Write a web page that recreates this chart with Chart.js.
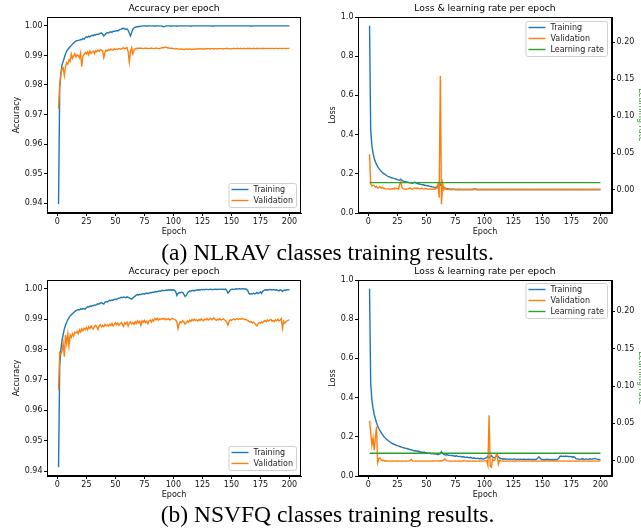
<!DOCTYPE html>
<html>
<head>
<meta charset="utf-8">
<script src="https://cdn.jsdelivr.net/npm/chart.js@4.4.1/dist/chart.umd.min.js"></script>
<style>
  html, body { margin: 0; padding: 0; background: #fff; overflow: hidden; }
  body { width: 641px; height: 528px; position: relative; }
  canvas { position: absolute; }
  .caption { position: absolute; left: 0; width: 655px; text-align: center; font-family: "Liberation Serif", serif; font-size: 23.5px; line-height: 1; color: #000; white-space: nowrap; }
</style>
</head>
<body>
<canvas id="acc-a" width="320" height="240" style="left:0;top:0"></canvas>
<canvas id="loss-a" width="330" height="240" style="left:320px;top:0"></canvas>
<div class="caption" style="top:241px">(a) NLRAV classes training results.</div>
<canvas id="acc-b" width="320" height="240" style="left:0;top:263px"></canvas>
<canvas id="loss-b" width="330" height="240" style="left:320px;top:263px"></canvas>
<div class="caption" style="top:503px">(b) NSVFQ classes training results.</div>
<script>
// epochs 1..200 (x positions only)
const epochs = Array.from({length: 200}, (_, i) => i + 1);
const epochTicks = [0, 25, 50, 75, 100, 125, 150, 175, 200];
const accTicks = [0.94, 0.95, 0.96, 0.97, 0.98, 0.99, 1.00];
const lossTicks = [0.0, 0.2, 0.4, 0.6, 0.8, 1.0];
const lrTicks = [0.00, 0.05, 0.10, 0.15, 0.20];

// (a) NLRAV
const accTrainA = [
  0.9397, 0.9790, 0.9840, 0.9868, 0.9880, 0.9893, 0.9905, 0.9915, 0.9920, 0.9925,
  0.9930, 0.9934, 0.9938, 0.9942, 0.9946, 0.9948, 0.9950, 0.9951, 0.9952, 0.9954,
  0.9953, 0.9957, 0.9955, 0.9960, 0.9963, 0.9961, 0.9965, 0.9963, 0.9966, 0.9968,
  0.9967, 0.9970, 0.9969, 0.9972, 0.9971, 0.9973, 0.9975, 0.9976, 0.9972, 0.9966,
  0.9970, 0.9974, 0.9977, 0.9976, 0.9979, 0.9980, 0.9978, 0.9982, 0.9981, 0.9983,
  0.9984, 0.9983, 0.9986, 0.9988, 0.9989, 0.9991, 0.9992, 0.9990, 0.9988, 0.9990,
  0.9985, 0.9975, 0.9966, 0.9978, 0.9988, 0.9993, 0.9995, 0.9996, 0.9997, 0.9998,
  0.9998, 0.9999, 0.9999, 1.0000, 1.0000, 1.0000, 0.9999, 1.0000, 1.0000, 1.0000,
  1.0000, 1.0000, 1.0000, 0.9999, 1.0000, 1.0000, 1.0000, 1.0000, 1.0000, 0.9999,
  0.9998, 0.9997, 0.9999, 1.0000, 1.0000, 1.0000, 1.0000, 0.9999, 1.0000, 1.0000,
  1.0000, 1.0000, 0.9999, 1.0000, 1.0000, 1.0000, 1.0000, 1.0000, 1.0000, 1.0000,
  1.0000, 1.0000, 1.0000, 1.0000, 0.9999, 1.0000, 1.0000, 1.0000, 1.0000, 1.0000,
  1.0000, 1.0000, 1.0000, 1.0000, 1.0000, 1.0000, 1.0000, 1.0000, 1.0000, 1.0000,
  1.0000, 1.0000, 1.0000, 0.9999, 1.0000, 1.0000, 1.0000, 1.0000, 1.0000, 1.0000,
  1.0000, 1.0000, 1.0000, 1.0000, 1.0000, 1.0000, 1.0000, 1.0000, 1.0000, 1.0000,
  1.0000, 1.0000, 1.0000, 1.0000, 1.0000, 1.0000, 1.0000, 1.0000, 1.0000, 1.0000,
  1.0000, 1.0000, 1.0000, 1.0000, 1.0000, 1.0000, 0.9999, 1.0000, 1.0000, 1.0000,
  1.0000, 1.0000, 1.0000, 1.0000, 1.0000, 1.0000, 1.0000, 1.0000, 1.0000, 1.0000,
  1.0000, 1.0000, 1.0000, 1.0000, 1.0000, 1.0000, 1.0000, 1.0000, 1.0000, 1.0000,
  1.0000, 1.0000, 1.0000, 1.0000, 1.0000, 1.0000, 1.0000, 1.0000, 1.0000, 1.0000
];
const accValA = [
  0.9720, 0.9800, 0.9835, 0.9855, 0.9858, 0.9832, 0.9862, 0.9875, 0.9870, 0.9885,
  0.9880, 0.9905, 0.9890, 0.9898, 0.9906, 0.9895, 0.9902, 0.9900, 0.9892, 0.9908,
  0.9862, 0.9898, 0.9903, 0.9910, 0.9905, 0.9912, 0.9902, 0.9915, 0.9907, 0.9912,
  0.9914, 0.9906, 0.9916, 0.9912, 0.9918, 0.9914, 0.9920, 0.9917, 0.9915, 0.9893,
  0.9910, 0.9918, 0.9915, 0.9920, 0.9917, 0.9921, 0.9919, 0.9918, 0.9922, 0.9920,
  0.9922, 0.9921, 0.9923, 0.9922, 0.9921, 0.9925, 0.9926, 0.9922, 0.9925, 0.9927,
  0.9912, 0.9878, 0.9915, 0.9926, 0.9905, 0.9918, 0.9922, 0.9924, 0.9923, 0.9925,
  0.9924, 0.9925, 0.9924, 0.9923, 0.9924, 0.9925, 0.9924, 0.9923, 0.9924, 0.9924,
  0.9925, 0.9924, 0.9923, 0.9924, 0.9925, 0.9924, 0.9924, 0.9923, 0.9925, 0.9926,
  0.9926, 0.9927, 0.9928, 0.9927, 0.9926, 0.9925, 0.9924, 0.9925, 0.9924, 0.9923,
  0.9923, 0.9922, 0.9923, 0.9922, 0.9921, 0.9921, 0.9922, 0.9921, 0.9920, 0.9921,
  0.9922, 0.9921, 0.9921, 0.9922, 0.9921, 0.9920, 0.9921, 0.9922, 0.9921, 0.9922,
  0.9922, 0.9923, 0.9922, 0.9923, 0.9922, 0.9922, 0.9923, 0.9922, 0.9923, 0.9923,
  0.9923, 0.9922, 0.9923, 0.9923, 0.9922, 0.9923, 0.9923, 0.9922, 0.9923, 0.9923,
  0.9923, 0.9923, 0.9922, 0.9923, 0.9923, 0.9924, 0.9923, 0.9923, 0.9922, 0.9923,
  0.9923, 0.9924, 0.9923, 0.9923, 0.9924, 0.9923, 0.9923, 0.9924, 0.9923, 0.9923,
  0.9924, 0.9923, 0.9923, 0.9924, 0.9923, 0.9924, 0.9923, 0.9923, 0.9924, 0.9923,
  0.9923, 0.9924, 0.9923, 0.9924, 0.9924, 0.9923, 0.9924, 0.9923, 0.9924, 0.9924,
  0.9923, 0.9924, 0.9924, 0.9923, 0.9924, 0.9924, 0.9923, 0.9924, 0.9924, 0.9923,
  0.9924, 0.9924, 0.9923, 0.9924, 0.9924, 0.9924, 0.9923, 0.9924, 0.9924, 0.9924
];
const lossTrainA = [
  0.955, 0.420, 0.345, 0.305, 0.280, 0.262, 0.248, 0.237, 0.228, 0.220,
  0.213, 0.207, 0.202, 0.198, 0.194, 0.190, 0.187, 0.185, 0.182, 0.180,
  0.178, 0.177, 0.175, 0.172, 0.170, 0.168, 0.167, 0.172, 0.166, 0.163,
  0.161, 0.160, 0.158, 0.157, 0.155, 0.154, 0.153, 0.152, 0.154, 0.158,
  0.153, 0.150, 0.149, 0.148, 0.146, 0.145, 0.144, 0.143, 0.141, 0.140,
  0.139, 0.138, 0.136, 0.135, 0.133, 0.132, 0.131, 0.130, 0.129, 0.130,
  0.134, 0.142, 0.152, 0.138, 0.130, 0.127, 0.125, 0.124, 0.123, 0.122,
  0.122, 0.121, 0.121, 0.121, 0.120, 0.120, 0.120, 0.121, 0.120, 0.120,
  0.120, 0.120, 0.120, 0.120, 0.120, 0.120, 0.120, 0.120, 0.120, 0.121,
  0.121, 0.123, 0.121, 0.120, 0.120, 0.120, 0.120, 0.120, 0.120, 0.120,
  0.120, 0.120, 0.120, 0.120, 0.120, 0.120, 0.120, 0.120, 0.120, 0.120,
  0.120, 0.120, 0.120, 0.120, 0.120, 0.120, 0.120, 0.120, 0.120, 0.120,
  0.120, 0.120, 0.120, 0.120, 0.120, 0.120, 0.120, 0.120, 0.120, 0.120,
  0.120, 0.120, 0.120, 0.120, 0.120, 0.120, 0.120, 0.120, 0.120, 0.120,
  0.120, 0.120, 0.120, 0.120, 0.120, 0.120, 0.120, 0.120, 0.120, 0.120,
  0.120, 0.120, 0.120, 0.120, 0.120, 0.120, 0.120, 0.120, 0.120, 0.120,
  0.120, 0.120, 0.120, 0.120, 0.120, 0.120, 0.120, 0.120, 0.120, 0.120,
  0.120, 0.120, 0.120, 0.120, 0.120, 0.120, 0.120, 0.120, 0.120, 0.120,
  0.120, 0.120, 0.120, 0.120, 0.120, 0.120, 0.120, 0.120, 0.120, 0.120,
  0.120, 0.120, 0.120, 0.120, 0.120, 0.120, 0.120, 0.120, 0.120, 0.120
];
const lossValA = [
  0.300, 0.150, 0.138, 0.142, 0.140, 0.132, 0.136, 0.128, 0.130, 0.134,
  0.127, 0.131, 0.126, 0.125, 0.123, 0.122, 0.124, 0.122, 0.121, 0.123,
  0.125, 0.122, 0.128, 0.126, 0.124, 0.122, 0.145, 0.160, 0.130, 0.124,
  0.122, 0.121, 0.123, 0.122, 0.125, 0.127, 0.123, 0.121, 0.126, 0.128,
  0.124, 0.127, 0.125, 0.122, 0.124, 0.126, 0.123, 0.122, 0.125, 0.124,
  0.122, 0.121, 0.123, 0.121, 0.122, 0.121, 0.123, 0.122, 0.135, 0.148,
  0.078, 0.700, 0.045, 0.150, 0.118, 0.130, 0.121, 0.120, 0.120, 0.120,
  0.120, 0.119, 0.120, 0.120, 0.119, 0.120, 0.120, 0.119, 0.120, 0.120,
  0.119, 0.120, 0.120, 0.119, 0.120, 0.120, 0.119, 0.120, 0.120, 0.119,
  0.120, 0.120, 0.119, 0.120, 0.120, 0.119, 0.120, 0.120, 0.119, 0.120,
  0.120, 0.119, 0.120, 0.120, 0.119, 0.120, 0.120, 0.119, 0.120, 0.120,
  0.119, 0.120, 0.120, 0.119, 0.120, 0.120, 0.119, 0.120, 0.120, 0.119,
  0.120, 0.120, 0.119, 0.120, 0.120, 0.119, 0.120, 0.120, 0.119, 0.120,
  0.120, 0.119, 0.120, 0.120, 0.119, 0.120, 0.120, 0.119, 0.120, 0.120,
  0.119, 0.120, 0.120, 0.119, 0.120, 0.120, 0.119, 0.120, 0.120, 0.119,
  0.120, 0.120, 0.119, 0.120, 0.120, 0.119, 0.120, 0.120, 0.119, 0.120,
  0.120, 0.119, 0.120, 0.120, 0.119, 0.120, 0.120, 0.119, 0.120, 0.120,
  0.119, 0.120, 0.120, 0.119, 0.120, 0.120, 0.119, 0.120, 0.120, 0.119,
  0.120, 0.120, 0.119, 0.120, 0.120, 0.119, 0.120, 0.120, 0.119, 0.120,
  0.120, 0.119, 0.120, 0.120, 0.119, 0.120, 0.120, 0.119, 0.120, 0.120
];
const lrA = [
  0.01, 0.01, 0.01, 0.01, 0.01, 0.01, 0.01, 0.01, 0.01, 0.01,
  0.01, 0.01, 0.01, 0.01, 0.01, 0.01, 0.01, 0.01, 0.01, 0.01,
  0.01, 0.01, 0.01, 0.01, 0.01, 0.01, 0.01, 0.01, 0.01, 0.01,
  0.01, 0.01, 0.01, 0.01, 0.01, 0.01, 0.01, 0.01, 0.01, 0.01,
  0.01, 0.01, 0.01, 0.01, 0.01, 0.01, 0.01, 0.01, 0.01, 0.01,
  0.01, 0.01, 0.01, 0.01, 0.01, 0.01, 0.01, 0.01, 0.01, 0.01,
  0.01, 0.01, 0.01, 0.01, 0.01, 0.01, 0.01, 0.01, 0.01, 0.01,
  0.01, 0.01, 0.01, 0.01, 0.01, 0.01, 0.01, 0.01, 0.01, 0.01,
  0.01, 0.01, 0.01, 0.01, 0.01, 0.01, 0.01, 0.01, 0.01, 0.01,
  0.01, 0.01, 0.01, 0.01, 0.01, 0.01, 0.01, 0.01, 0.01, 0.01,
  0.01, 0.01, 0.01, 0.01, 0.01, 0.01, 0.01, 0.01, 0.01, 0.01,
  0.01, 0.01, 0.01, 0.01, 0.01, 0.01, 0.01, 0.01, 0.01, 0.01,
  0.01, 0.01, 0.01, 0.01, 0.01, 0.01, 0.01, 0.01, 0.01, 0.01,
  0.01, 0.01, 0.01, 0.01, 0.01, 0.01, 0.01, 0.01, 0.01, 0.01,
  0.01, 0.01, 0.01, 0.01, 0.01, 0.01, 0.01, 0.01, 0.01, 0.01,
  0.01, 0.01, 0.01, 0.01, 0.01, 0.01, 0.01, 0.01, 0.01, 0.01,
  0.01, 0.01, 0.01, 0.01, 0.01, 0.01, 0.01, 0.01, 0.01, 0.01,
  0.01, 0.01, 0.01, 0.01, 0.01, 0.01, 0.01, 0.01, 0.01, 0.01,
  0.01, 0.01, 0.01, 0.01, 0.01, 0.01, 0.01, 0.01, 0.01, 0.01,
  0.01, 0.01, 0.01, 0.01, 0.01, 0.01, 0.01, 0.01, 0.01, 0.01
];

// (b) NSVFQ
const accTrainB = [
  0.9413, 0.9745, 0.9800, 0.9830, 0.9850, 0.9868, 0.9880, 0.9890, 0.9898, 0.9905,
  0.9911, 0.9915, 0.9918, 0.9922, 0.9925, 0.9928, 0.9930, 0.9932, 0.9931, 0.9934,
  0.9933, 0.9935, 0.9934, 0.9933, 0.9938, 0.9941, 0.9940, 0.9943, 0.9942, 0.9945,
  0.9944, 0.9947, 0.9946, 0.9949, 0.9951, 0.9950, 0.9953, 0.9955, 0.9952, 0.9950,
  0.9956, 0.9958, 0.9957, 0.9960, 0.9962, 0.9961, 0.9963, 0.9962, 0.9965, 0.9966,
  0.9965, 0.9968, 0.9969, 0.9970, 0.9972, 0.9971, 0.9973, 0.9972, 0.9971, 0.9974,
  0.9972, 0.9970, 0.9968, 0.9966, 0.9970, 0.9973, 0.9976, 0.9979, 0.9981, 0.9980,
  0.9982, 0.9981, 0.9983, 0.9984, 0.9982, 0.9985, 0.9986, 0.9984, 0.9986, 0.9988,
  0.9987, 0.9989, 0.9988, 0.9990, 0.9991, 0.9990, 0.9992, 0.9993, 0.9992, 0.9994,
  0.9995, 0.9994, 0.9995, 0.9996, 0.9995, 0.9997, 0.9996, 0.9997, 0.9996, 0.9997,
  0.9995, 0.9990, 0.9978, 0.9985, 0.9988, 0.9987, 0.9989, 0.9988, 0.9982, 0.9975,
  0.9978, 0.9985, 0.9990, 0.9993, 0.9992, 0.9994, 0.9995, 0.9993, 0.9995, 0.9996,
  0.9996, 0.9997, 0.9996, 0.9998, 0.9997, 0.9998, 0.9997, 0.9998, 0.9998, 0.9997,
  0.9998, 0.9999, 0.9998, 0.9997, 0.9998, 0.9999, 0.9998, 0.9999, 0.9998, 0.9999,
  0.9999, 0.9998, 0.9999, 0.9998, 0.9999, 0.9994, 0.9986, 0.9990, 0.9996, 0.9998,
  0.9999, 0.9998, 0.9999, 1.0000, 0.9999, 1.0000, 1.0000, 0.9999, 1.0000, 1.0000,
  0.9999, 1.0000, 0.9998, 0.9995, 0.9985, 0.9982, 0.9984, 0.9983, 0.9986, 0.9983,
  0.9985, 0.9988, 0.9984, 0.9987, 0.9990, 0.9985, 0.9992, 0.9995, 0.9997, 0.9996,
  0.9997, 0.9996, 0.9998, 0.9997, 0.9996, 0.9998, 0.9997, 0.9996, 0.9997, 0.9995,
  0.9993, 0.9997, 0.9996, 0.9991, 0.9995, 0.9996, 0.9995, 0.9997, 0.9997, 0.9997
];
const accValB = [
  0.9668, 0.9790, 0.9785, 0.9795, 0.9820, 0.9777, 0.9848, 0.9820, 0.9852, 0.9812,
  0.9848, 0.9840, 0.9852, 0.9845, 0.9857, 0.9855, 0.9860, 0.9852, 0.9865, 0.9858,
  0.9868, 0.9862, 0.9870, 0.9866, 0.9872, 0.9865, 0.9875, 0.9870, 0.9878, 0.9872,
  0.9868, 0.9876, 0.9880, 0.9874, 0.9866, 0.9878, 0.9882, 0.9875, 0.9880, 0.9876,
  0.9883, 0.9878, 0.9881, 0.9877, 0.9884, 0.9880, 0.9886, 0.9878, 0.9883, 0.9888,
  0.9882, 0.9887, 0.9880, 0.9885, 0.9889, 0.9883, 0.9876, 0.9888, 0.9884, 0.9890,
  0.9878, 0.9887, 0.9891, 0.9885, 0.9889, 0.9883, 0.9892, 0.9886, 0.9894, 0.9888,
  0.9893, 0.9880, 0.9895, 0.9890, 0.9896, 0.9889, 0.9893, 0.9885, 0.9894, 0.9897,
  0.9891, 0.9899, 0.9894, 0.9902, 0.9898, 0.9903, 0.9897, 0.9901, 0.9899, 0.9902,
  0.9900, 0.9903, 0.9898, 0.9901, 0.9899, 0.9902, 0.9897, 0.9900, 0.9903, 0.9901,
  0.9899, 0.9897, 0.9890, 0.9869, 0.9885, 0.9892, 0.9888, 0.9895, 0.9891, 0.9884,
  0.9888, 0.9894, 0.9890, 0.9897, 0.9893, 0.9899, 0.9895, 0.9900, 0.9896, 0.9898,
  0.9894, 0.9899, 0.9896, 0.9901, 0.9897, 0.9895, 0.9900, 0.9898, 0.9902, 0.9897,
  0.9900, 0.9903, 0.9898, 0.9901, 0.9904, 0.9899, 0.9896, 0.9900, 0.9898, 0.9902,
  0.9897, 0.9899, 0.9901, 0.9898, 0.9895, 0.9890, 0.9880, 0.9893, 0.9898, 0.9896,
  0.9899, 0.9901, 0.9898, 0.9900, 0.9902, 0.9899, 0.9901, 0.9900, 0.9902, 0.9901,
  0.9899, 0.9900, 0.9898, 0.9896, 0.9893, 0.9890, 0.9892, 0.9888, 0.9890, 0.9886,
  0.9882, 0.9878, 0.9885, 0.9889, 0.9887, 0.9891, 0.9889, 0.9893, 0.9896, 0.9892,
  0.9898, 0.9894, 0.9897, 0.9899, 0.9893, 0.9896, 0.9892, 0.9898, 0.9895, 0.9900,
  0.9894, 0.9897, 0.9902, 0.9870, 0.9893, 0.9887, 0.9892, 0.9895, 0.9897, 0.9898
];
const lossTrainB = [
  0.955, 0.470, 0.390, 0.345, 0.315, 0.292, 0.272, 0.256, 0.242, 0.231,
  0.221, 0.212, 0.204, 0.197, 0.191, 0.186, 0.181, 0.176, 0.172, 0.168,
  0.165, 0.162, 0.160, 0.157, 0.155, 0.154, 0.150, 0.149, 0.146, 0.145,
  0.143, 0.142, 0.140, 0.139, 0.136, 0.135, 0.133, 0.131, 0.130, 0.128,
  0.129, 0.126, 0.127, 0.123, 0.124, 0.121, 0.120, 0.122, 0.118, 0.119,
  0.117, 0.116, 0.117, 0.114, 0.115, 0.113, 0.112, 0.114, 0.111, 0.110,
  0.112, 0.114, 0.124, 0.115, 0.110, 0.108, 0.107, 0.109, 0.106, 0.105,
  0.104, 0.106, 0.103, 0.102, 0.101, 0.103, 0.100, 0.099, 0.101, 0.098,
  0.097, 0.099, 0.096, 0.095, 0.097, 0.094, 0.093, 0.095, 0.092, 0.091,
  0.093, 0.090, 0.089, 0.091, 0.089, 0.088, 0.090, 0.088, 0.087, 0.089,
  0.091, 0.095, 0.100, 0.093, 0.098, 0.104, 0.097, 0.093, 0.095, 0.101,
  0.106, 0.098, 0.092, 0.089, 0.088, 0.087, 0.088, 0.086, 0.087, 0.086,
  0.085, 0.087, 0.086, 0.085, 0.086, 0.087, 0.085, 0.084, 0.086, 0.085,
  0.086, 0.084, 0.085, 0.086, 0.084, 0.085, 0.084, 0.086, 0.085, 0.084,
  0.085, 0.084, 0.085, 0.084, 0.086, 0.092, 0.098, 0.090, 0.085, 0.084,
  0.083, 0.084, 0.083, 0.085, 0.084, 0.083, 0.084, 0.083, 0.084, 0.083,
  0.084, 0.083, 0.085, 0.090, 0.100, 0.102, 0.100, 0.101, 0.099, 0.102,
  0.100, 0.101, 0.098, 0.100, 0.099, 0.095, 0.099, 0.094, 0.088, 0.086,
  0.087, 0.085, 0.086, 0.088, 0.087, 0.085, 0.086, 0.087, 0.085, 0.086,
  0.088, 0.086, 0.087, 0.089, 0.090, 0.087, 0.086, 0.085, 0.084, 0.083
];
const lossValB = [
  0.282, 0.220, 0.158, 0.195, 0.132, 0.195, 0.252, 0.068, 0.088, 0.092,
  0.082, 0.078, 0.080, 0.077, 0.078, 0.076, 0.077, 0.076, 0.077, 0.076,
  0.077, 0.076, 0.076, 0.077, 0.076, 0.077, 0.076, 0.076, 0.077, 0.076,
  0.076, 0.077, 0.076, 0.076, 0.077, 0.078, 0.085, 0.077, 0.076, 0.076,
  0.077, 0.076, 0.076, 0.077, 0.076, 0.076, 0.077, 0.076, 0.076, 0.077,
  0.076, 0.076, 0.077, 0.076, 0.077, 0.076, 0.078, 0.077, 0.076, 0.077,
  0.076, 0.078, 0.077, 0.079, 0.082, 0.088, 0.079, 0.077, 0.076, 0.077,
  0.076, 0.077, 0.076, 0.076, 0.077, 0.076, 0.076, 0.077, 0.076, 0.077,
  0.076, 0.078, 0.077, 0.076, 0.077, 0.076, 0.077, 0.076, 0.076, 0.077,
  0.076, 0.077, 0.076, 0.076, 0.077, 0.076, 0.077, 0.076, 0.076, 0.077,
  0.077, 0.078, 0.055, 0.310, 0.050, 0.045, 0.085, 0.078, 0.080, 0.105,
  0.112, 0.060, 0.080, 0.077, 0.076, 0.077, 0.076, 0.076, 0.077, 0.076,
  0.076, 0.077, 0.076, 0.076, 0.077, 0.076, 0.077, 0.076, 0.076, 0.077,
  0.076, 0.076, 0.077, 0.076, 0.077, 0.076, 0.076, 0.077, 0.076, 0.076,
  0.077, 0.076, 0.076, 0.077, 0.076, 0.077, 0.076, 0.076, 0.077, 0.076,
  0.076, 0.077, 0.076, 0.076, 0.077, 0.076, 0.077, 0.076, 0.076, 0.077,
  0.076, 0.076, 0.077, 0.076, 0.077, 0.076, 0.076, 0.077, 0.076, 0.076,
  0.077, 0.076, 0.076, 0.077, 0.076, 0.077, 0.076, 0.076, 0.077, 0.076,
  0.076, 0.077, 0.076, 0.076, 0.077, 0.076, 0.077, 0.076, 0.076, 0.077,
  0.076, 0.076, 0.077, 0.076, 0.077, 0.076, 0.076, 0.077, 0.076, 0.076
];
const lrB = [
  0.01, 0.01, 0.01, 0.01, 0.01, 0.01, 0.01, 0.01, 0.01, 0.01,
  0.01, 0.01, 0.01, 0.01, 0.01, 0.01, 0.01, 0.01, 0.01, 0.01,
  0.01, 0.01, 0.01, 0.01, 0.01, 0.01, 0.01, 0.01, 0.01, 0.01,
  0.01, 0.01, 0.01, 0.01, 0.01, 0.01, 0.01, 0.01, 0.01, 0.01,
  0.01, 0.01, 0.01, 0.01, 0.01, 0.01, 0.01, 0.01, 0.01, 0.01,
  0.01, 0.01, 0.01, 0.01, 0.01, 0.01, 0.01, 0.01, 0.01, 0.01,
  0.01, 0.01, 0.01, 0.01, 0.01, 0.01, 0.01, 0.01, 0.01, 0.01,
  0.01, 0.01, 0.01, 0.01, 0.01, 0.01, 0.01, 0.01, 0.01, 0.01,
  0.01, 0.01, 0.01, 0.01, 0.01, 0.01, 0.01, 0.01, 0.01, 0.01,
  0.01, 0.01, 0.01, 0.01, 0.01, 0.01, 0.01, 0.01, 0.01, 0.01,
  0.01, 0.01, 0.01, 0.01, 0.01, 0.01, 0.01, 0.01, 0.01, 0.01,
  0.01, 0.01, 0.01, 0.01, 0.01, 0.01, 0.01, 0.01, 0.01, 0.01,
  0.01, 0.01, 0.01, 0.01, 0.01, 0.01, 0.01, 0.01, 0.01, 0.01,
  0.01, 0.01, 0.01, 0.01, 0.01, 0.01, 0.01, 0.01, 0.01, 0.01,
  0.01, 0.01, 0.01, 0.01, 0.01, 0.01, 0.01, 0.01, 0.01, 0.01,
  0.01, 0.01, 0.01, 0.01, 0.01, 0.01, 0.01, 0.01, 0.01, 0.01,
  0.01, 0.01, 0.01, 0.01, 0.01, 0.01, 0.01, 0.01, 0.01, 0.01,
  0.01, 0.01, 0.01, 0.01, 0.01, 0.01, 0.01, 0.01, 0.01, 0.01,
  0.01, 0.01, 0.01, 0.01, 0.01, 0.01, 0.01, 0.01, 0.01, 0.01,
  0.01, 0.01, 0.01, 0.01, 0.01, 0.01, 0.01, 0.01, 0.01, 0.01
];

const BLUE = '#1f77b4', ORANGE = '#ff7f0e', GREEN = '#2ca02c';

Chart.defaults.font.family = "'DejaVu Sans', sans-serif";
Chart.defaults.color = '#111';
Chart.defaults.animation = false;

// black box around the plot area plus a title centred over it, like matplotlib
const frame = {
    id: 'frame',
    afterDraw(chart, args, opts) {
        const {ctx, chartArea: a} = chart;
        const l = Math.round(a.left) + 0.5, t = Math.round(a.top) + 0.5;
        const r = Math.round(a.right) - 0.5, b = Math.round(a.bottom) - 0.5;
        ctx.save();
        ctx.strokeStyle = '#000';
        ctx.lineWidth = 1;
        ctx.strokeRect(l, t, r - l, b - t);
        ctx.font = "9.2px 'DejaVu Sans'";
        ctx.fillStyle = '#000';
        ctx.textAlign = 'center';
        ctx.textBaseline = 'middle';
        ctx.fillText(opts.title, (a.left + a.right) / 2, a.top - 8);
        ctx.restore();
    }
};

// matplotlib style legend box inside the plot area
const boxLegend = {
    id: 'boxLegend',
    afterDraw(chart, args, opts) {
        const {ctx, chartArea: a} = chart;
        const items = chart.data.datasets;
        ctx.save();
        ctx.font = "8px 'DejaVu Sans'";
        const textW = Math.max(...items.map(d => ctx.measureText(d.label).width));
        const rowH = 11;
        const w = 3 + 17 + 5 + textW + 3;
        const h = rowH * items.length + 2;
        const x = a.right - 5 - w;
        const y = opts.corner === 'top' ? a.top + opts.gap : a.bottom - opts.gap - h;
        ctx.beginPath();
        ctx.roundRect(x + 0.5, y + 0.5, w, h, 2);
        ctx.fillStyle = 'rgba(255,255,255,0.85)';
        ctx.fill();
        ctx.strokeStyle = '#d0d0d0';
        ctx.lineWidth = 1;
        ctx.stroke();
        items.forEach((d, i) => {
            const cy = y + 6.5 + i * rowH;
            ctx.beginPath();
            ctx.moveTo(x + 3, cy);
            ctx.lineTo(x + 20, cy);
            ctx.strokeStyle = d.borderColor;
            ctx.lineWidth = 1.4;
            ctx.stroke();
            ctx.fillStyle = '#222';
            ctx.textBaseline = 'middle';
            ctx.fillText(d.label, x + 25, cy);
        });
        ctx.restore();
    }
};

function line(label, values, color, extra) {
    return Object.assign({
        label: label,
        data: values.map((v, i) => ({x: epochs[i], y: v})),
        borderColor: color,
        backgroundColor: color,
        borderWidth: 1.4,
        pointRadius: 0,
        tension: 0,
        fill: false
    }, extra || {});
}

function epochAxis() {
    return {
        type: 'linear', min: -8.95, max: 209.95,
        afterBuildTicks: s => { s.ticks = epochTicks.map(v => ({value: v})); },
        afterFit: s => { s.height = 27; },
        ticks: {font: {size: 8}, padding: 1, maxRotation: 0, autoSkip: false, callback: v => String(v)},
        grid: {drawOnChartArea: false, tickLength: 3, color: '#000'},
        border: {color: '#000'},
        title: {display: true, text: 'Epoch', font: {size: 8}, padding: {top: 0, bottom: 3}}
    };
}

function valueAxis(o) {
    return {
        type: 'linear', position: o.position || 'left', min: o.min, max: o.max,
        afterBuildTicks: s => { s.ticks = o.ticks.map(v => ({value: v})); },
        afterFit: s => { s.width = o.width; },
        ticks: {font: {size: 8}, padding: 1.5, callback: v => v.toFixed(o.digits)},
        grid: {drawOnChartArea: false, tickLength: 3, color: '#000'},
        border: {color: '#000'},
        title: {display: true, text: o.title, color: o.titleColor || '#111', font: {size: 8}, padding: {top: o.titlePad, bottom: 0}}
    };
}

function baseOptions(title, rightPad, legendCorner, legendGap) {
    return {
        responsive: false,
        devicePixelRatio: 1,
        animation: false,
        layout: {padding: {left: 0, right: rightPad, top: 17, bottom: 0}},
        plugins: {
            legend: {display: false},
            tooltip: {enabled: false},
            title: {display: false},
            frame: {title: title},
            boxLegend: {corner: legendCorner, gap: legendGap}
        }
    };
}

function accChart(id, train, val, yMin, yMax) {
    const options = baseOptions('Accuracy per epoch', 19, 'bottom', 6);
    options.scales = {
        x: epochAxis(),
        y: valueAxis({min: yMin, max: yMax, ticks: accTicks, digits: 2, width: 47, title: 'Accuracy', titlePad: 12})
    };
    return new Chart(document.getElementById(id), {
        type: 'line',
        data: {datasets: [
            line('Training', train, BLUE, {order: 2}),
            line('Validation', val, ORANGE, {order: 1})
        ]},
        options: options,
        plugins: [frame, boxLegend]
    });
}

function lossChart(id, train, val, lr, lrMin, lrMax, legendGap) {
    const options = baseOptions('Loss & learning rate per epoch', 0, 'top', legendGap);
    options.scales = {
        x: epochAxis(),
        y: valueAxis({min: 0, max: 1, ticks: lossTicks, digits: 1, width: 38, title: 'Loss', titlePad: 8.5}),
        y1: valueAxis({position: 'right', min: lrMin, max: lrMax, ticks: lrTicks, digits: 2, width: 38,
                       title: 'Learning rate', titleColor: GREEN, titlePad: 4})
    };
    return new Chart(document.getElementById(id), {
        type: 'line',
        data: {datasets: [
            line('Training', train, BLUE, {order: 3, yAxisID: 'y'}),
            line('Validation', val, ORANGE, {order: 2, yAxisID: 'y'}),
            line('Learning rate', lr, GREEN, {order: 1, yAxisID: 'y1'})
        ]},
        options: options,
        plugins: [frame, boxLegend]
    });
}

accChart('acc-a', accTrainA, accValA, 0.9367, 1.0030);
lossChart('loss-a', lossTrainA, lossValA, lrA, -0.0312, 0.2343, 4);
accChart('acc-b', accTrainB, accValB, 0.9384, 1.0029);
lossChart('loss-b', lossTrainB, lossValB, lrB, -0.0204, 0.2419, 3);
</script>
</body>
</html>
